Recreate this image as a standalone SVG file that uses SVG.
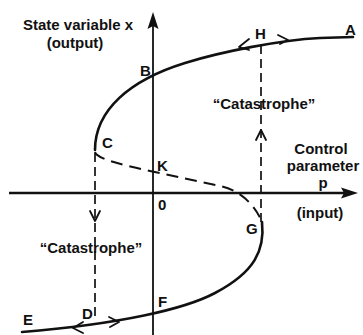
<svg xmlns="http://www.w3.org/2000/svg" width="363" height="335" viewBox="0 0 363 335">
<style>
text{font-family:"Liberation Sans",Arial,sans-serif;font-weight:bold;fill:#111;}
.lbl{font-size:15px;}
.t{font-size:15px;}
.axis{stroke:#111;fill:none;}
.curve{stroke:#111;stroke-width:2.6;fill:none;stroke-linecap:round;}
.dash{stroke:#111;stroke-width:2;fill:none;stroke-dasharray:12 7;}
.vdash{stroke:#111;stroke-width:1.7;fill:none;stroke-dasharray:9 5;}
.chev{stroke:#111;stroke-width:1.8;fill:none;stroke-linecap:round;stroke-linejoin:round;}
</style>
<rect width="363" height="335" fill="#fff"/>
<g id="axes">
<line class="axis" x1="9" y1="193" x2="345" y2="193" stroke-width="2.5"/>
<path d="M358,193 L341,187.5 L344,193 L341,198.5 Z" fill="#111"/>
<line class="axis" x1="153" y1="26" x2="153" y2="335" stroke-width="1.8"/>
<path d="M153,12 L147.5,29 L153,26 L158.5,29 Z" fill="#111"/>
<text class="t" x="23" y="30">State variable x</text>
<text class="t" x="75" y="48" text-anchor="middle">(output)</text>
<text class="t" x="321" y="154" text-anchor="middle">Control</text>
<text class="t" x="323" y="171" text-anchor="middle">parameter</text>
<text class="t" x="323" y="188" text-anchor="middle">p</text>
<text class="t" x="320" y="218" text-anchor="middle">(input)</text>
<text class="lbl" x="158" y="210">0</text>
</g>
<g id="connectors">
<path id="upper-branch" class="curve" d="M353,37 L320,38 C280,40 220,52 185,63 C130,80 95,110 95,150"/>
<path id="middle-branch" class="dash" d="M95,152 C96,158 118,164 150,171 L220,186 C240,190 255,205 262,222"/>
<path id="lower-branch" class="curve" d="M262,222 C265,250 255,272 215,293 C185,309 120,324 22,332"/>
<line id="jump-down" class="vdash" x1="95" y1="153" x2="95" y2="320"/>
<line id="jump-up" class="vdash" x1="261" y1="45" x2="261" y2="222"/>
<polyline class="chev" points="90,211 95,221 100,211"/>
<polyline class="chev" points="256,140 261,130 266,140"/>
<polyline class="chev" points="249,39 239,47 249,50"/>
<polyline class="chev" points="278,35 288,40 280,44"/>
<polyline class="chev" points="83,322 73,328 83,333"/>
<polyline class="chev" points="109,317 119,322 110,327"/>
</g>
<g id="node-A"><text class="lbl" x="345" y="35">A</text></g>
<g id="node-H"><text class="lbl" x="255" y="39">H</text></g>
<g id="node-B"><text class="lbl" x="140" y="76">B</text></g>
<g id="node-C"><text class="lbl" x="102" y="148">C</text></g>
<g id="node-K"><text class="lbl" x="157" y="171">K</text></g>
<g id="node-G"><text class="lbl" x="246" y="234">G</text></g>
<g id="node-F"><text class="lbl" x="158" y="307">F</text></g>
<g id="node-D"><text class="lbl" x="82" y="319">D</text></g>
<g id="node-E"><text class="lbl" x="23" y="325">E</text></g>
<g id="catastrophe-up"><text class="t" x="264" y="109" text-anchor="middle">“Catastrophe”</text></g>
<g id="catastrophe-down"><text class="t" x="91" y="253" text-anchor="middle">“Catastrophe”</text></g>
</svg>
